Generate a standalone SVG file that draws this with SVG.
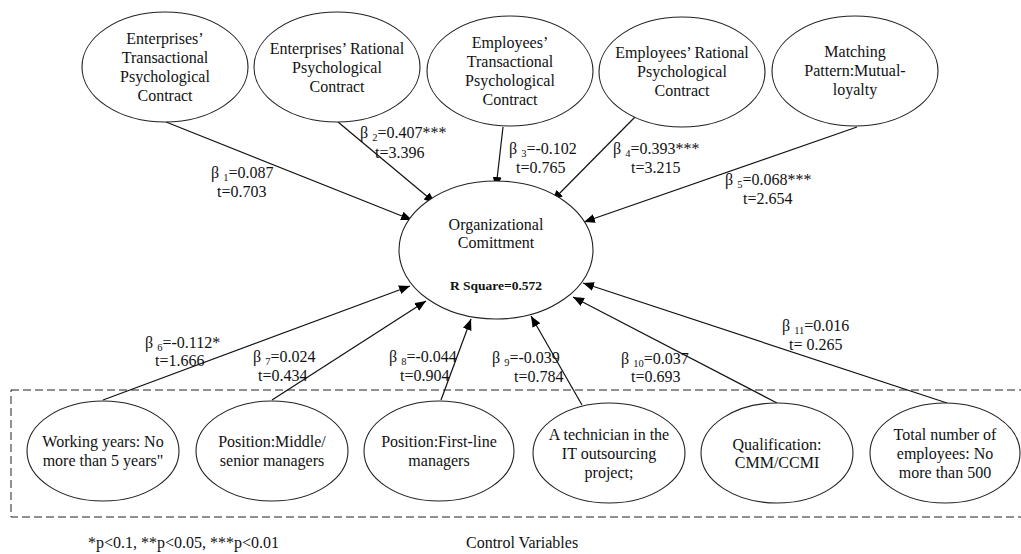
<svg xmlns="http://www.w3.org/2000/svg" width="1021" height="554" viewBox="0 0 1021 554">
<style>
text{font-family:"Liberation Serif","Times New Roman",serif;font-size:16px;fill:#111;}
.c{text-anchor:middle;}
.node ellipse{fill:#fff;stroke:#222;stroke-width:1.1;}
.conn line{stroke:#111;stroke-width:1.2;marker-end:url(#ah);}
.sub{font-size:10.5px;}
.b{font-weight:bold;font-size:13.5px;}
</style>
<defs>
<marker id="ah" markerUnits="userSpaceOnUse" markerWidth="12" markerHeight="10" refX="11" refY="4.5" orient="auto">
<path d="M0,0 L11,4.5 L0,9 Z" fill="#000"/>
</marker>
</defs>
<rect width="1021" height="554" fill="#fff"/>
<rect x="11" y="390" width="1020" height="127" fill="none" stroke="#222" stroke-width="1" stroke-dasharray="8,4"/>
<g id="connectors" class="conn">
<line x1="166" y1="122" x2="412" y2="220"/>
<line x1="338" y1="122" x2="435" y2="203"/>
<line x1="503" y1="127" x2="496" y2="188"/>
<line x1="635" y1="117" x2="552" y2="201"/>
<line x1="857" y1="127" x2="584" y2="222"/>
<line x1="103" y1="400" x2="410" y2="286"/>
<line x1="272" y1="400" x2="426" y2="301"/>
<line x1="441" y1="400" x2="471" y2="319"/>
<line x1="582" y1="405" x2="531" y2="316"/>
<line x1="777" y1="403" x2="573" y2="297"/>
<line x1="947" y1="403" x2="583" y2="283"/>
</g>
<g id="n1" class="node"><ellipse cx="165" cy="67" rx="83" ry="55"/>
<text class="c" x="165" y="44">Enterprises’</text><text class="c" x="165" y="63">Transactional</text><text class="c" x="165" y="82">Psychological</text><text class="c" x="165" y="101">Contract</text></g>
<g id="n2" class="node"><ellipse cx="337" cy="67" rx="83" ry="55"/>
<text class="c" x="337" y="54">Enterprises’ Rational</text><text class="c" x="337" y="73">Psychological</text><text class="c" x="337" y="92">Contract</text></g>
<g id="n3" class="node"><ellipse cx="510" cy="71" rx="83" ry="55"/>
<text class="c" x="510" y="48">Employees’</text><text class="c" x="510" y="67">Transactional</text><text class="c" x="510" y="86">Psychological</text><text class="c" x="510" y="105">Contract</text></g>
<g id="n4" class="node"><ellipse cx="682" cy="72" rx="83" ry="55"/>
<text class="c" x="682" y="58">Employees’ Rational</text><text class="c" x="682" y="77">Psychological</text><text class="c" x="682" y="96">Contract</text></g>
<g id="n5" class="node"><ellipse cx="855" cy="71" rx="83" ry="55"/>
<text class="c" x="855" y="57">Matching</text><text class="c" x="855" y="76">Pattern:Mutual-</text><text class="c" x="855" y="95">loyalty</text></g>
<g id="center" class="node"><ellipse cx="496" cy="250" rx="97" ry="69"/>
<text class="c" x="496" y="230">Organizational</text><text class="c" x="496" y="248">Comittment</text>
<text class="c b" x="496" y="290">R Square=0.572</text></g>
<g id="c1" class="node"><ellipse cx="103" cy="451" rx="76" ry="50"/>
<text class="c" x="103" y="447">Working years: No</text><text class="c" x="103" y="466">more than 5 years"</text></g>
<g id="c2" class="node"><ellipse cx="272" cy="451" rx="76" ry="50"/>
<text class="c" x="272" y="447">Position:Middle/</text><text class="c" x="272" y="466">senior managers</text></g>
<g id="c3" class="node"><ellipse cx="439" cy="451" rx="75" ry="50"/>
<text class="c" x="439" y="447">Position:First-line</text><text class="c" x="439" y="466">managers</text></g>
<g id="c4" class="node"><ellipse cx="609" cy="453" rx="76" ry="50"/>
<text class="c" x="609" y="440">A technician in the</text><text class="c" x="609" y="459">IT outsourcing</text><text class="c" x="609" y="478">project;</text></g>
<g id="c5" class="node"><ellipse cx="777" cy="453" rx="76" ry="50"/>
<text class="c" x="777" y="450">Qualification:</text><text class="c" x="777" y="468">CMM/CCMI</text></g>
<g id="c6" class="node"><ellipse cx="945" cy="453" rx="75" ry="50"/>
<text class="c" x="945" y="440">Total number of</text><text class="c" x="945" y="459">employees: No</text><text class="c" x="945" y="478">more than 500</text></g>
<g id="labels">
<text x="211" y="178">β <tspan class="sub" dy="3">1</tspan><tspan dy="-3">=0.087</tspan></text><text x="217" y="197">t=0.703</text>
<text x="360" y="138">β <tspan class="sub" dy="3">2</tspan><tspan dy="-3">=0.407***</tspan></text><text x="375" y="158">t=3.396</text>
<text x="509" y="154">β <tspan class="sub" dy="3">3</tspan><tspan dy="-3">=-0.102</tspan></text><text x="516" y="173">t=0.765</text>
<text x="613" y="154">β <tspan class="sub" dy="3">4</tspan><tspan dy="-3">=0.393***</tspan></text><text x="631" y="173">t=3.215</text>
<text x="725" y="185">β <tspan class="sub" dy="3">5</tspan><tspan dy="-3">=0.068***</tspan></text><text x="743" y="204">t=2.654</text>
<text x="145" y="348">β <tspan class="sub" dy="3">6</tspan><tspan dy="-3">=-0.112*</tspan></text><text x="155" y="366">t=1.666</text>
<text x="253" y="362">β <tspan class="sub" dy="3">7</tspan><tspan dy="-3">=0.024</tspan></text><text x="258" y="381">t=0.434</text>
<text x="389" y="362">β <tspan class="sub" dy="3">8</tspan><tspan dy="-3">=-0.044</tspan></text><text x="400" y="381">t=0.904</text>
<text x="492" y="363">β <tspan class="sub" dy="3">9</tspan><tspan dy="-3">=-0.039</tspan></text><text x="514" y="382">t=0.784</text>
<text x="621" y="364">β <tspan class="sub" dy="3">10</tspan><tspan dy="-3">=0.037</tspan></text><text x="631" y="382">t=0.693</text>
<text x="782" y="331">β <tspan class="sub" dy="3">11</tspan><tspan dy="-3">=0.016</tspan></text><text x="789" y="350">t= 0.265</text>
<text x="88" y="548">*p&lt;0.1, **p&lt;0.05, ***p&lt;0.01</text>
<text x="466" y="548">Control Variables</text>
</g>
</svg>
